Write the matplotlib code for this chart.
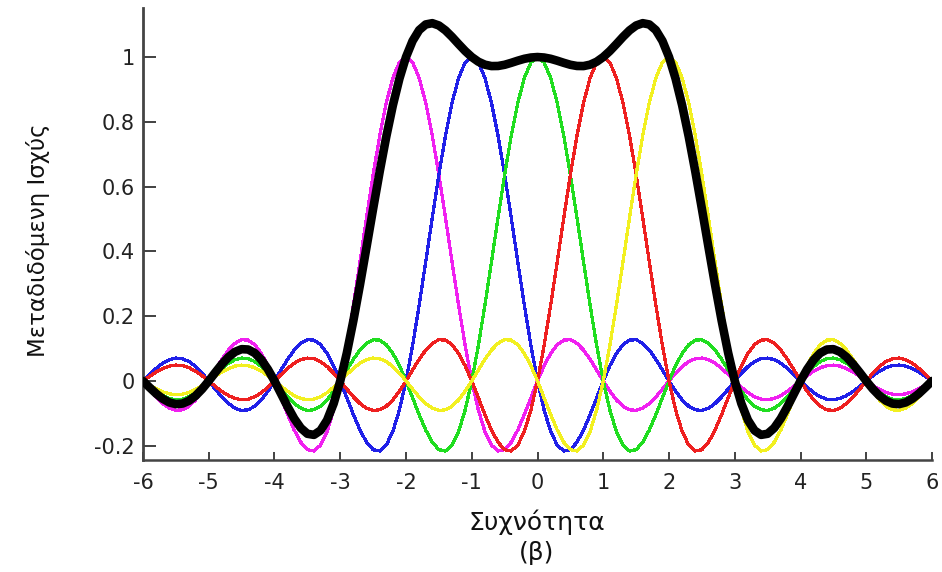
import numpy as np
import matplotlib
matplotlib.use("Agg")
import matplotlib.pyplot as plt
from matplotlib.ticker import FixedLocator, FixedFormatter

plt.rcParams['font.family'] = ['DejaVu Sans']

# Response of one subcarrier vs. distance from its centre frequency (0.0, 0.1, ..., 8.0)
carrier_profile = [
    1.0, 0.9836, 0.9355, 0.8584, 0.7568, 0.6366, 0.5046, 0.3679, 0.2339, 0.1093,
    0.0, -0.0894, -0.1559, -0.1981, -0.2162, -0.2122, -0.1892, -0.1515, -0.1039, -0.0518,
    0.0, 0.0468, 0.0850, 0.1120, 0.1261, 0.1273, 0.1164, 0.0954, 0.0668, 0.0339,
    0.0, -0.0317, -0.0585, -0.0780, -0.0890, -0.0909, -0.0841, -0.0696, -0.0492, -0.0252,
    0.0, 0.0240, 0.0446, 0.0599, 0.0688, 0.0707, 0.0658, 0.0548, 0.0390, 0.0201,
    0.0, -0.0193, -0.0360, -0.0486, -0.0561, -0.0579, -0.0541, -0.0452, -0.0323, -0.0167,
    0.0, 0.0161, 0.0302, 0.0409, 0.0473, 0.0490, 0.0459, 0.0384, 0.0275, 0.0143,
    0.0, -0.0139, -0.0260, -0.0353, -0.0409, -0.0424, -0.0398, -0.0334, -0.0240, -0.0125,
    0.0,
]
profile_step = 0.1

# Subcarrier centre frequencies and their colours
carrier_centres = [-2, -1, 0, 1, 2]
carrier_colours = ['#f020f0', '#2020e8', '#20dd20', '#ee2020', '#f2f020']

freq = np.round(np.arange(-60, 61) * profile_step, 1)
prof = np.asarray(carrier_profile)

curves = []
for c in carrier_centres:
    idx = np.rint(np.abs(freq - c) / profile_step).astype(int)
    curves.append(prof[idx])
total = np.sum(curves, axis=0)

x_ticks = [-6, -5, -4, -3, -2, -1, 0, 1, 2, 3, 4, 5, 6]
x_tick_labels = ['-6', '-5', '-4', '-3', '-2', '-1', '0', '1', '2', '3', '4', '5', '6']
y_ticks = [-0.2, 0, 0.2, 0.4, 0.6, 0.8, 1]
y_tick_labels = ['-0.2', '0', '0.2', '0.4', '0.6', '0.8', '1']

fig = plt.figure(figsize=(9.42, 5.72), dpi=100)
ax = fig.add_axes([0.1518, 0.1958, 0.8376, 0.790])

for y, col in zip(curves, carrier_colours):
    ax.plot(freq, y, color=col, lw=1.6, antialiased=False, zorder=2)
ax.plot(freq, total, color='black', lw=6.2, solid_joinstyle='round',
        solid_capstyle='round', zorder=3)

ax.set_xlim(-6, 6)
ax.set_ylim(-0.244, 1.151)
ax.xaxis.set_major_locator(FixedLocator(x_ticks))
ax.xaxis.set_major_formatter(FixedFormatter(x_tick_labels))
ax.yaxis.set_major_locator(FixedLocator(y_ticks))
ax.yaxis.set_major_formatter(FixedFormatter(y_tick_labels))
ax.tick_params(axis='x', direction='in', length=6, width=1.3, labelsize=15,
               pad=9, colors='#333333', labelcolor='#222222')
ax.tick_params(axis='y', direction='in', length=9, width=1.3, labelsize=15,
               pad=6, colors='#333333', labelcolor='#222222')

for side in ('top', 'right'):
    ax.spines[side].set_visible(False)
ax.spines['left'].set_linewidth(2.0)
ax.spines['bottom'].set_linewidth(1.8)
for side in ('left', 'bottom'):
    ax.spines[side].set_color('#444444')

fig.text(0.040, 0.580, 'Μεταδιδόμενη Ισχύς', rotation=90, ha='center',
         va='center', fontsize=16.5, color='#111111')
fig.text(0.570, 0.0734, 'Συχνότητα', ha='center', va='baseline',
         fontsize=18, color='#111111')
fig.text(0.570, 0.021, '(β)', ha='center', va='baseline',
         fontsize=18, color='#111111')

fig.savefig('out.png', dpi=100)
